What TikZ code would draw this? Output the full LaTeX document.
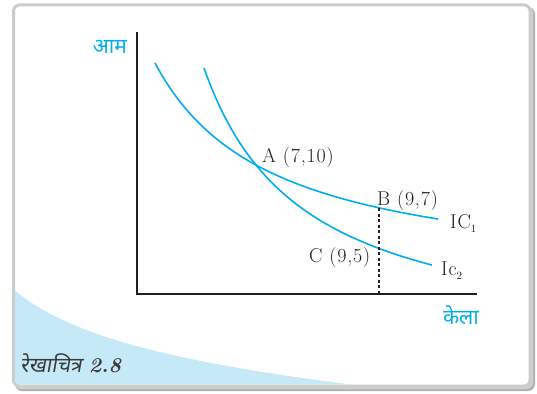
\documentclass[tikz,border=0pt]{standalone}
\usepackage{fontspec}
\newfontfamily\deva[Script=Devanagari]{Noto Sans}
\newfontfamily\devacap[Script=Devanagari,FakeSlant=0.18]{Noto Sans}
\newfontfamily\lblfont[LetterSpace=4]{Latin Modern Roman}
\definecolor{cyanline}{HTML}{00AEEF}
\definecolor{skyfill}{HTML}{C6E9F8}
\definecolor{ink}{HTML}{231F20}
\definecolor{capgray}{HTML}{3A3A3A}
\newcommand{\smallsub}[1]{\raisebox{-4.5pt}{\fontsize{11}{12}\selectfont #1}}
\tikzset{
  curve/.style={cyanline, line width=1.6pt, samples=90},
  axisline/.style={ink, line width=2pt},
  guide/.style={ink, line width=1.3pt, dash pattern=on 3pt off 2.5pt},
  ptlabel/.style={ink, inner sep=0pt, font=\lblfont\fontsize{20}{23}\selectfont},
  axlabel/.style={cyanline, inner sep=0pt, font=\deva\fontsize{21}{24}\selectfont},
}
\begin{document}
\begin{tikzpicture}[x=1pt,y=-1pt]
\useasboundingbox (0,0) rectangle (537,393);
% card shadow and frame
\fill[black!30, rounded corners=7] (15,7) rectangle (535,391);
\fill[black!18, rounded corners=7] (14,6) rectangle (533,389);
\draw[fill=white, draw=black!20, line width=3pt, rounded corners=6] (13.5,5) rectangle (530,386);
\begin{scope}
  \clip[rounded corners=5] (15,6.5) rectangle (528.5,384.5);
  \fill[skyfill] (12,288) .. controls (60,330) and (150,360) .. (363,386) -- (12,392) -- cycle;
\end{scope}
% named points
\coordinate (O) at (137,294);
\coordinate (Ytop) at (137,32);
\coordinate (Xend) at (477,294);
\coordinate (A) at (256,165);
\coordinate (B) at (379,208);
\coordinate (C) at (379,247.5);
\coordinate (F) at (379,294);
% axes
\draw[axisline] (Ytop) -- (O) -- (Xend);
% indifference curves
\draw[curve] plot[domain=155:438] ({\x},{283.9-259.96/((\x-37.3)/100)});
\draw[curve] plot[domain=204:432] ({\x},{351.4-283.07/((\x-104.1)/100)});
% dashed guide
\draw[guide] (B) -- (F);
% labels
\node[ptlabel, anchor=base west] (lA) at (262,162) {A (7,10)};
\node[ptlabel, anchor=base west] (lB) at (377,205) {B (9,7)};
\node[ptlabel, anchor=base west] (lC) at (309,262) {C (9,5)};
\node[ptlabel, anchor=base west] (lI1) at (450,228) {IC\smallsub{1}};
\node[ptlabel, anchor=base west] (lI2) at (441,275) {Ic\smallsub{2}};
\node[axlabel] (ly) at (110,47) {आम};
\node[axlabel] (lx) at (461,315) {केला};
\node[capgray, inner sep=0pt, anchor=base west] (cap) at (20,372)
  {{\devacap\bfseries\fontsize{21}{24}\selectfont रेखाचित्र}\hspace{7pt}{\bfseries\itshape\fontsize{21}{24}\selectfont 2.8}};
\end{tikzpicture}
\end{document}
